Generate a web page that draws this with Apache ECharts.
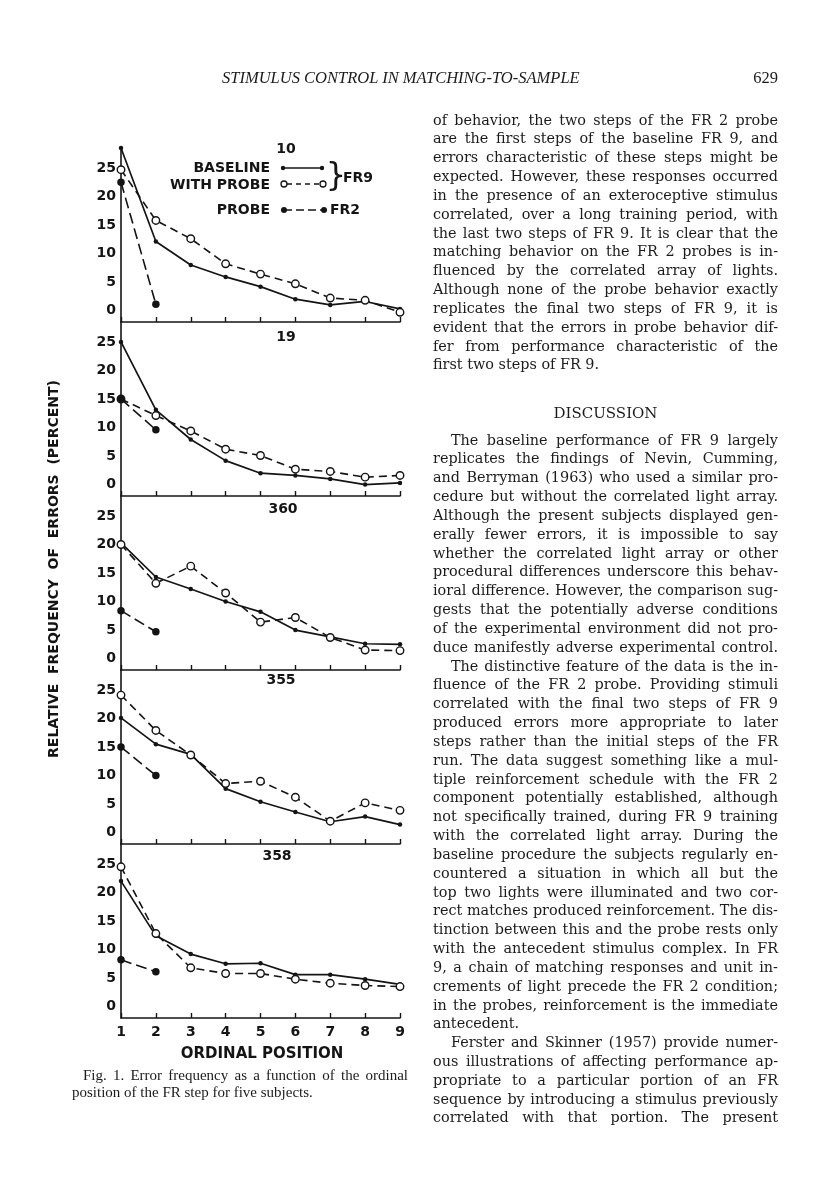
<!DOCTYPE html>
<html><head><meta charset="utf-8">
<script src="https://cdn.jsdelivr.net/npm/echarts@6.0.0/dist/echarts.min.js"></script>
<style>
html,body{margin:0;padding:0;background:#fff;}
#page{position:relative;width:816px;height:1200px;overflow:hidden;background:#fff;}
#chart{position:absolute;left:0;top:0;width:816px;height:1200px;}
.ln{position:absolute;white-space:pre;font-family:'DejaVu Serif';font-size:14.4px;line-height:18.8px;height:18.8px;color:#1b1b1b;}
.cap{position:absolute;white-space:pre;font-family:'Liberation Serif';font-size:15px;line-height:16px;height:16px;color:#1b1b1b;}
.hdr{position:absolute;white-space:pre;font-family:'Liberation Serif';font-size:16.5px;line-height:20px;height:20px;color:#1b1b1b;}
</style></head><body><div id="page"><div id="chart"></div></div>
<script>
// ---- data ----
const positions = [1, 2, 3, 4, 5, 6, 7, 8, 9];
const probePositions = [1, 2];
const yTickValues = [0, 5, 10, 15, 20, 25];
const subjects = ['10', '19', '360', '355', '358'];

const baseline10  = [28.5, 12.1, 8.0, 5.9, 4.2, 2.0, 1.0, 1.6, 0.3];
const withProbe10 = [24.7, 15.8, 12.6, 8.2, 6.4, 4.7, 2.2, 1.8, -0.3];
const probe10     = [22.5, 1.1];

const baseline19  = [25.0, 13.1, 7.9, 4.2, 2.0, 1.6, 1.0, 0.0, 0.3];
const withProbe19 = [15.0, 12.1, 9.4, 6.2, 5.1, 2.7, 2.3, 1.3, 1.6];
const probe19     = [15.0, 9.6];

const baseline360  = [20.3, 14.3, 12.2, 10.0, 8.2, 5.0, 3.8, 2.6, 2.5];
const withProbe360 = [20.0, 13.2, 16.2, 11.5, 6.4, 7.2, 3.7, 1.5, 1.4];
const probe360     = [8.4, 4.7];

const baseline355  = [20.1, 15.5, 13.7, 7.7, 5.4, 3.6, 1.9, 2.8, 1.4];
const withProbe355 = [24.1, 17.9, 13.6, 8.6, 9.0, 6.2, 2.0, 5.2, 3.9];
const probe355     = [15.0, 10.0];

const baseline358  = [22.0, 12.4, 9.2, 7.5, 7.6, 5.6, 5.6, 4.8, 3.9];
const withProbe358 = [24.5, 12.8, 6.8, 5.8, 5.8, 4.8, 4.1, 3.7, 3.5];
const probe358     = [8.2, 6.1];

const baselineAll  = [baseline10, baseline19, baseline360, baseline355, baseline358];
const withProbeAll = [withProbe10, withProbe19, withProbe360, withProbe355, withProbe358];
const probeAll     = [probe10, probe19, probe360, probe355, probe358];

// ---- chart ----
const INK = '#141414';
const SANS = 'DejaVu Sans';
const gridTop0 = 148, gridH = 174;
const grids = [], xAxes = [], yAxes = [], series = [];
subjects.forEach((s, i) => {
  grids.push({left: 121, top: gridTop0 + gridH * i, width: 279, height: gridH});
  xAxes.push({
    type: 'value', gridIndex: i, min: 1, max: 9, interval: 1,
    axisLine: {onZero: false, lineStyle: {color: INK, width: 1.6}},
    axisTick: {inside: true, length: 5, lineStyle: {color: INK, width: 1.4}},
    axisLabel: {show: i === 4, fontSize: 14, fontWeight: 'bold', color: INK, fontFamily: SANS, margin: 7},
    splitLine: {show: false}
  });
  yAxes.push({
    type: 'value', gridIndex: i, min: -2, max: 28.5,
    axisLine: {show: true, onZero: false, lineStyle: {color: INK, width: 1.6}},
    axisTick: {show: false},
    splitLine: {show: false},
    axisLabel: {customValues: yTickValues, fontSize: 14, fontWeight: 'bold', color: INK, fontFamily: SANS, margin: 5}
  });
  series.push({
    type: 'line', xAxisIndex: i, yAxisIndex: i, name: 'BASELINE',
    data: positions.map((x, j) => [x, baselineAll[i][j]]),
    symbol: 'circle', symbolSize: 4.5, showAllSymbol: true,
    lineStyle: {color: INK, width: 1.7}, itemStyle: {color: INK}, z: 2
  });
  series.push({
    type: 'line', xAxisIndex: i, yAxisIndex: i, name: 'WITH PROBE',
    data: positions.map((x, j) => [x, withProbeAll[i][j]]),
    symbol: 'circle', symbolSize: 7.5, showAllSymbol: true,
    lineStyle: {color: INK, width: 1.6, type: [8, 5]},
    itemStyle: {color: '#fff', borderColor: INK, borderWidth: 1.4}, z: 3
  });
  series.push({
    type: 'line', xAxisIndex: i, yAxisIndex: i, name: 'PROBE',
    data: probePositions.map((x, j) => [x, probeAll[i][j]]),
    symbol: 'circle', symbolSize: 7.5, showAllSymbol: true,
    lineStyle: {color: INK, width: 1.6, type: [11, 5]},
    itemStyle: {color: INK}, z: 4
  });
});

function txt(x, y, text, opts) {
  return Object.assign({type: 'text', x: x, y: y, silent: true,
    style: Object.assign({text: text, fill: INK, font: 'bold 14px "DejaVu Sans"',
      textAlign: 'left', textVerticalAlign: 'middle'}, (opts && opts.style) || {})},
    opts && opts.extra || {});
}
const graphics = [];
// panel labels
const panelLabelPos = [[286, 149], [286, 337.5], [283, 509], [281, 680], [277, 856]];
subjects.forEach((s, i) => graphics.push(txt(panelLabelPos[i][0], panelLabelPos[i][1], s, {style: {textAlign: 'center'}})));
// legend
graphics.push(txt(270, 168.5, 'BASELINE', {style: {textAlign: 'right'}}));
graphics.push(txt(270, 185, 'WITH PROBE', {style: {textAlign: 'right'}}));
graphics.push(txt(270, 210, 'PROBE', {style: {textAlign: 'right'}}));
graphics.push({type: 'line', shape: {x1: 283, y1: 168, x2: 322, y2: 168}, style: {stroke: INK, lineWidth: 1.6}});
graphics.push({type: 'circle', shape: {cx: 283, cy: 168, r: 2.2}, style: {fill: INK}});
graphics.push({type: 'circle', shape: {cx: 322, cy: 168, r: 2.2}, style: {fill: INK}});
graphics.push({type: 'line', shape: {x1: 287, y1: 184, x2: 320, y2: 184}, style: {stroke: INK, lineWidth: 1.6, lineDash: [5, 4]}});
graphics.push({type: 'circle', shape: {cx: 284, cy: 184, r: 3}, style: {fill: '#fff', stroke: INK, lineWidth: 1.3}, z: 10});
graphics.push({type: 'circle', shape: {cx: 323, cy: 184, r: 3}, style: {fill: '#fff', stroke: INK, lineWidth: 1.3}, z: 10});
graphics.push({type: 'line', shape: {x1: 284, y1: 210, x2: 324, y2: 210}, style: {stroke: INK, lineWidth: 1.6, lineDash: [8, 4]}});
graphics.push({type: 'circle', shape: {cx: 284, cy: 210, r: 3}, style: {fill: INK}});
graphics.push({type: 'circle', shape: {cx: 324, cy: 210, r: 3}, style: {fill: INK}});
graphics.push({type: 'text', x: 336, y: 177, silent: true, style: {text: '}', fill: INK, font: '32px "DejaVu Sans"', textAlign: 'center', textVerticalAlign: 'middle'}});
graphics.push(txt(343, 178, 'FR9'));
graphics.push(txt(330, 210, 'FR2'));
// axis titles
graphics.push({type: 'text', x: 54, y: 569, rotation: Math.PI / 2, silent: true,
  style: {text: 'RELATIVE  FREQUENCY  OF  ERRORS  (PERCENT)', fill: INK, font: 'bold 14px "DejaVu Sans"', textAlign: 'center', textVerticalAlign: 'middle'}});
graphics.push(txt(262, 1054, 'ORDINAL POSITION', {style: {textAlign: 'center', font: 'bold 15px "DejaVu Sans"'}}));

const chart = echarts.init(document.getElementById('chart'), null, {renderer: 'canvas'});
chart.setOption({
  animation: false,
  backgroundColor: 'transparent',
  grid: grids, xAxis: xAxes, yAxis: yAxes, series: series, graphic: graphics
});

// ---- page text ----
const page = document.getElementById('page');
function addLine(cls, text, left, centerY, width, justify, lh) {
  const d = document.createElement('div');
  d.className = cls;
  d.textContent = text;
  d.style.left = left + 'px';
  d.style.top = (centerY - lh / 2) + 'px';
  page.appendChild(d);
  if (justify) {
    const w = d.getBoundingClientRect().width;
    const n = (text.match(/ /g) || []).length;
    if (n > 0) d.style.wordSpacing = ((width - w) / n) + 'px';
  }
  return d;
}
const colL = 433, colR = 778, colW = colR - colL, indent = 18, pitch = 18.83;
const block1 = [
  'of behavior, the two steps of the FR 2 probe',
  'are the first steps of the baseline FR 9, and',
  'errors characteristic of these steps might be',
  'expected. However, these responses occurred',
  'in the presence of an exteroceptive stimulus',
  'correlated, over a long training period, with',
  'the last two steps of FR 9. It is clear that the',
  'matching behavior on the FR 2 probes is in-',
  'fluenced by the correlated array of lights.',
  'Although none of the probe behavior exactly',
  'replicates the final two steps of FR 9, it is',
  'evident that the errors in probe behavior dif-',
  'fer from performance characteristic of the',
  'first two steps of FR 9.'
];
block1.forEach((t, k) => addLine('ln', t, colL, 120 + k * pitch, colW, k < block1.length - 1, 18.8));
addLine('ln', 'DISCUSSION', 0, 413, 0, false, 18.8).style.cssText += ';left:433px;width:345px;text-align:center;font-size:15px;';
const block2 = [
  ['The baseline performance of FR 9 largely', 1, 1],
  ['replicates the findings of Nevin, Cumming,', 0, 1],
  ['and Berryman (1963) who used a similar pro-', 0, 1],
  ['cedure but without the correlated light array.', 0, 1],
  ['Although the present subjects displayed gen-', 0, 1],
  ['erally fewer errors, it is impossible to say', 0, 1],
  ['whether the correlated light array or other', 0, 1],
  ['procedural differences underscore this behav-', 0, 1],
  ['ioral difference. However, the comparison sug-', 0, 1],
  ['gests that the potentially adverse conditions', 0, 1],
  ['of the experimental environment did not pro-', 0, 1],
  ['duce manifestly adverse experimental control.', 0, 1],
  ['The distinctive feature of the data is the in-', 1, 1],
  ['fluence of the FR 2 probe. Providing stimuli', 0, 1],
  ['correlated with the final two steps of FR 9', 0, 1],
  ['produced errors more appropriate to later', 0, 1],
  ['steps rather than the initial steps of the FR', 0, 1],
  ['run. The data suggest something like a mul-', 0, 1],
  ['tiple reinforcement schedule with the FR 2', 0, 1],
  ['component potentially established, although', 0, 1],
  ['not specifically trained, during FR 9 training', 0, 1],
  ['with the correlated light array. During the', 0, 1],
  ['baseline procedure the subjects regularly en-', 0, 1],
  ['countered a situation in which all but the', 0, 1],
  ['top two lights were illuminated and two cor-', 0, 1],
  ['rect matches produced reinforcement. The dis-', 0, 1],
  ['tinction between this and the probe rests only', 0, 1],
  ['with the antecedent stimulus complex. In FR', 0, 1],
  ['9, a chain of matching responses and unit in-', 0, 1],
  ['crements of light precede the FR 2 condition;', 0, 1],
  ['in the probes, reinforcement is the immediate', 0, 1],
  ['antecedent.', 0, 0],
  ['Ferster and Skinner (1957) provide numer-', 1, 1],
  ['ous illustrations of affecting performance ap-', 0, 1],
  ['propriate to a particular portion of an FR', 0, 1],
  ['sequence by introducing a stimulus previously', 0, 1],
  ['correlated with that portion. The present', 0, 1]
];
block2.forEach((r, k) => {
  const l = r[1] ? colL + indent : colL;
  addLine('ln', r[0], l, 440 + k * pitch, colR - l, !!r[2], 18.8);
});
// caption
addLine('cap', 'Fig. 1. Error frequency as a function of the ordinal', 83, 1075, 408 - 83, true, 16);
addLine('cap', 'position of the FR step for five subjects.', 72, 1092, 0, false, 16);
// running head
const h1 = addLine('hdr', 'STIMULUS CONTROL IN MATCHING-TO-SAMPLE', 222, 78, 0, false, 20);
h1.style.fontStyle = 'italic';
const h2 = addLine('hdr', '629', 0, 78, 0, false, 20);
h2.style.fontSize = '16.5px';
h2.style.left = (778 - h2.getBoundingClientRect().width) + 'px';
</script></body></html>
